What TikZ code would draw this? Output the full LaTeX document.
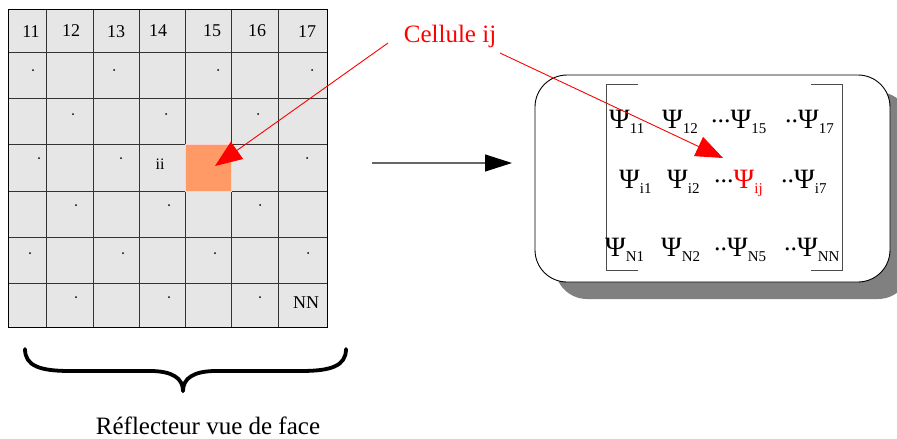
\documentclass[tikz,border=0pt]{standalone}
\usepackage{fontspec}
\setmainfont{Liberation Serif}
\usetikzlibrary{arrows.meta,shadows}
\definecolor{gridfill}{HTML}{E6E6E6}
\definecolor{cellorange}{HTML}{FF9966}
\definecolor{shadowgray}{HTML}{808080}
\newcommand{\mypsi}[2]{{\fontsize{28}{28}\selectfont #1Ψ}{\fontsize{15}{15}\selectfont\raisebox{-5pt}{#2}}}
\newcommand{\mydots}[1]{{\fontsize{26}{26}\selectfont\raisebox{6pt}{#1}}}
\begin{document}
\begin{tikzpicture}[x=1pt,y=-1pt,
  numlbl/.style={inner sep=0pt, font=\fontsize{18}{18}\selectfont},
  smalllbl/.style={inner sep=0pt, font=\fontsize{16}{16}\selectfont},
  psient/.style={inner sep=0pt, anchor=base west},
  redarrow/.style={red, line width=0.9pt, -{Triangle[length=27pt,width=21pt]}},
  gridline/.style={line width=0.9pt, black!80},
  bracket/.style={line width=0.8pt, black!70},
  ]
\useasboundingbox (0,0) rectangle (897,439);
% grid
\fill[gridfill] (8,9) rectangle (327,327);
\foreach \x in {46,93,139,185,231,278} \draw[gridline] (\x,9) -- (\x,327);
\foreach \y in {52,98,144,191,237,283} \draw[gridline] (8,\y) -- (327,\y);
\draw[line width=1pt] (8,9) rectangle (327,327);
\fill[cellorange, draw=pink!70, line width=0.6pt] (185,144) rectangle (231,191);
% header numbers
\node[numlbl] (n11) at (31,32) {11};
\node[numlbl] (n12) at (71,31) {12};
\node[numlbl] (n13) at (116,32) {13};
\node[numlbl] (n14) at (158,31) {14};
\node[numlbl] (n15) at (212,31) {15};
\node[numlbl] (n16) at (257,31) {16};
\node[numlbl] (n17) at (307,32) {17};
% dots
\foreach \p in {(33,70),(114,70),(218,70),(312,70),
                (73,114),(166,114),(258,114),
                (39,158),(121,158),(307,158),
                (76,205),(169,205),(260,205),
                (30,253),(123,253),(215,253),(308,253),
                (76,297),(169,297),(260,297)}
  \fill \p circle (1pt);
\node[smalllbl] (ii) at (160,164) {ii};
\node[numlbl] (nn) at (306,303) {NN};
% brace
\draw[line width=3.8pt, line cap=round] (25,349) .. controls (25,366) and (40,371) .. (70,371) -- (150,371) .. controls (172,371) and (183,378) .. (183,391);
\draw[line width=3.8pt, line cap=round] (346,349) .. controls (346,366) and (331,371) .. (301,371) -- (216,371) .. controls (194,371) and (183,378) .. (183,391);
\node[inner sep=0pt, anchor=base, font=\fontsize{25}{25}\selectfont] (title) at (208,434) {Réflecteur vue de face};
% black arrow
\coordinate (a1) at (372,163);
\coordinate (a2) at (512,163);
\draw[line width=1.2pt, black!60, -{Triangle[length=27pt,width=17pt,black]}] (a1) -- (a2);
% box
\node[draw, fill=white, line width=0.9pt, rounded corners=32pt, minimum width=355pt, minimum height=207pt,
  drop shadow={shadow xshift=20pt, shadow yshift=-17pt, fill=shadowgray, opacity=1}] (box) at (712.5,178.5) {};
\draw[bracket] (638,84) -- (606,84) -- (606,270) -- (638,270);
\draw[bracket] (811,84) -- (842,84) -- (842,270) -- (811,270);
% matrix entries
\node[psient] (p11) at (609,128) {\mypsi{}{11}};
\node[psient] (p12) at (662,128) {\mypsi{}{12}};
\node[psient] (p15) at (711,128) {\mydots{...}\mypsi{}{15}};
\node[psient] (p17) at (785,128) {\mydots{..}\mypsi{}{17}};
\node[psient] (pi1) at (619,188) {\mypsi{}{i1}};
\node[psient] (pi2) at (667,188) {\mypsi{}{i2}};
\node[psient] (pij) at (714,188) {\mydots{...}\textcolor{red}{\mypsi{}{ij}}};
\node[psient] (pi7) at (781,188) {\mydots{..}\mypsi{}{i7}};
\node[psient] (pN1) at (605,256) {\mypsi{}{N1}};
\node[psient] (pN2) at (661,256) {\mypsi{}{N2}};
\node[psient] (pN5) at (714,256) {\mydots{..}\mypsi{}{N5}};
\node[psient] (pNN) at (784,256) {\mydots{..}\mypsi{}{NN}};
% label and red arrows
\node[inner sep=0pt, text=red, font=\fontsize{25}{25}\selectfont] (cell) at (450,36) {Cellule ij};
\coordinate (r1s) at (388,43);
\coordinate (r1e) at (215,166);
\coordinate (r2s) at (500,53);
\coordinate (r2e) at (723,158);
\draw[redarrow] (r1s) -- (r1e);
\draw[redarrow] (r2s) -- (r2e);
\end{tikzpicture}
\end{document}
